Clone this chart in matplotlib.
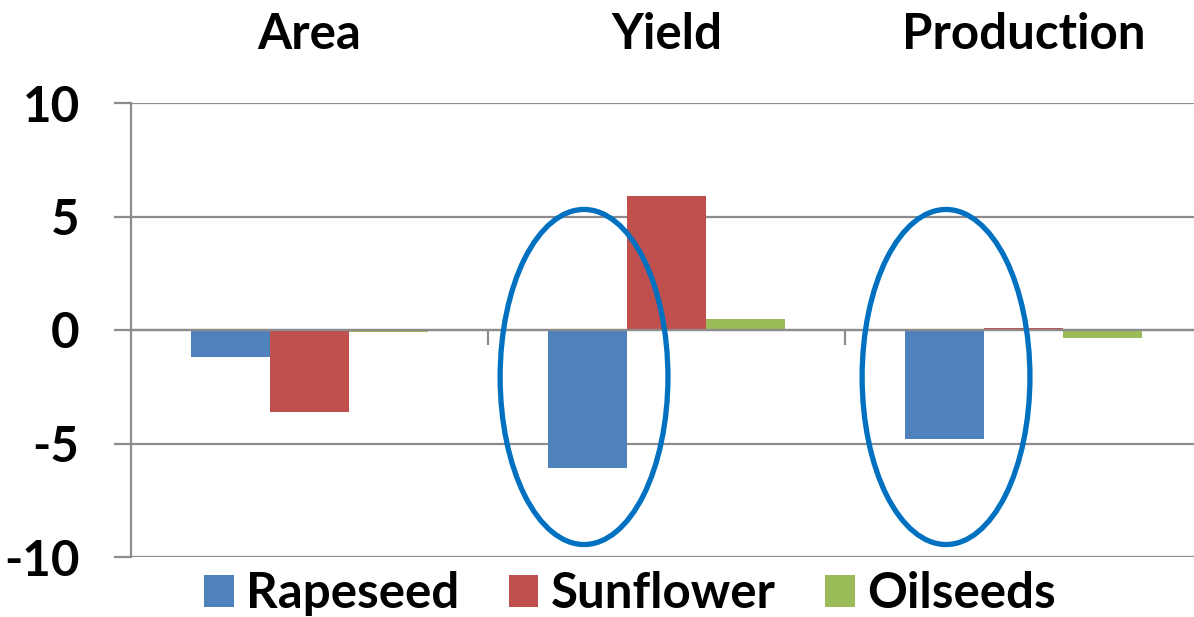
import numpy as np
import matplotlib
matplotlib.use("Agg")
import matplotlib.pyplot as plt
from matplotlib.patches import Ellipse

# data
categories = ["Area", "Yield", "Production"]
series_names = ["Rapeseed", "Sunflower", "Oilseeds"]
rapeseed = [-1.2, -6.1, -4.8]
sunflower = [-3.6, 5.9, 0.08]
oilseeds = [-0.1, 0.5, -0.35]
yticks = [-10, -5, 0, 5, 10]

colors = ["#4F81BD", "#C0504D", "#9BBB59"]
grid_col = "#8C8C8C"
ring_col = "#0070C0"

plt.rcParams['font.family'] = ['Lato', 'DejaVu Sans']
fs = 35.5

fig = plt.figure(figsize=(11.94, 6.17), dpi=100)
W, H = 1194, 617
# axes: left spine at x=131, y=10 at 103px, y=-10 at 557px, category width ~357px
ax = fig.add_axes([131 / W, (H - 557) / H, 1071 / W, 454 / H])

x = np.arange(len(categories))
bw = 0.221
for i, (vals, name) in enumerate(zip([rapeseed, sunflower, oilseeds], series_names)):
    ax.bar(x + (i - 1) * bw, vals, width=bw, color=colors[i], label=name, zorder=2)

ax.set_xlim(-0.5, 2.5)
ax.set_ylim(-10, 10)
ax.set_yticks(yticks)
ax.set_yticklabels([str(t) for t in yticks], fontsize=fs, fontweight='bold')
ax.grid(axis='y', color=grid_col, linewidth=1.6, zorder=1)
ax.set_axisbelow(True)
ax.tick_params(axis='y', length=12, width=1.6, color=grid_col, pad=25)

# category axis crosses at zero
for s in ['top', 'right']:
    ax.spines[s].set_visible(False)
ax.spines['left'].set_color(grid_col)
ax.spines['left'].set_linewidth(1.6)
ax.spines['bottom'].set_position(('data', 0))
ax.spines['bottom'].set_color(grid_col)
ax.spines['bottom'].set_linewidth(1.6)
ax.spines['bottom'].set_zorder(3)
ax.set_xticks([0.5, 1.5, 2.5])
ax.set_xticklabels([])
ax.tick_params(axis='x', length=11, width=1.6, color=grid_col, direction='out')

# category titles above the plot
for xi, cat in zip(x, categories):
    ax.text(xi, 1.15, cat, transform=ax.get_xaxis_transform(), ha='center', va='center',
            fontsize=fs, fontweight='bold')

# rings around the rapeseed bars
for cx in [0.769, 1.783]:
    ax.add_patch(Ellipse((cx, -2.07), 0.47, 14.76, fill=False, edgecolor=ring_col,
                         linewidth=3.8, zorder=4, clip_on=False))

leg = fig.legend(loc='center', bbox_to_anchor=(630 / W, 1 - 594 / H), ncol=3, frameon=False,
                 prop={'size': fs, 'weight': 'bold'}, handlelength=0.6, handleheight=0.64,
                 handletextpad=0.25, columnspacing=1.0, borderaxespad=0)

fig.savefig("out.png", dpi=100)
